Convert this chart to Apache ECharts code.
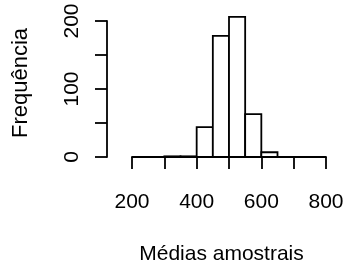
<!DOCTYPE html>
<html>
<head>
<meta charset="utf-8">
<script src="https://cdn.jsdelivr.net/npm/echarts@6/dist/echarts.min.js"></script>
<style>
  html, body { margin: 0; padding: 0; background: #fff; }
  #hist-chart { width: 345px; height: 266px; }
</style>
</head>
<body>
<div id="hist-chart"></div>
<script>
// limites das classes e frequências
var breaks = [300, 350, 400, 450, 500, 550, 600, 650];
var counts = [1, 1, 44, 178, 206, 63, 7];
var xLabels = [200, 400, 600, 800];
var yLabels = [0, 100, 200];

var histData = [];
for (var i = 0; i < counts.length; i++) {
    histData.push([breaks[i], breaks[i + 1], counts[i]]);
}

var font = 'Liberation Sans, Arial, sans-serif';

var option = {
    animation: false,
    grid: { left: 132, right: 19, top: 21, bottom: 109, outerBoundsMode: 'none' },
    xAxis: {
        type: 'value',
        min: 200,
        max: 800,
        interval: 100,
        offset: 6,
        splitLine: { show: false },
        axisLine: { lineStyle: { color: '#000', width: 1.8 } },
        axisTick: { length: 12, lineStyle: { color: '#000', width: 1.8 } },
        axisLabel: {
            margin: 29,
            color: '#000',
            fontSize: 21,
            fontFamily: font,
            formatter: function (v) { return xLabels.indexOf(v) >= 0 ? String(v) : ''; }
        },
        name: 'Médias amostrais',
        nameLocation: 'middle',
        nameGap: 81,
        nameTextStyle: { color: '#000', fontSize: 21, fontFamily: font, padding: [0, 15, 0, 0] }
    },
    yAxis: {
        type: 'value',
        min: 0,
        max: 200,
        interval: 50,
        offset: 25,
        splitLine: { show: false },
        axisLine: { show: true, lineStyle: { color: '#000', width: 1.8 } },
        axisTick: { show: true, length: 12, lineStyle: { color: '#000', width: 1.8 } },
        axisLabel: {
            rotate: 90,
            margin: 24,
            color: '#000',
            fontSize: 21,
            fontFamily: font,
            formatter: function (v) { return yLabels.indexOf(v) >= 0 ? String(v) : ''; }
        },
        name: 'Frequência',
        nameLocation: 'middle',
        nameGap: 75,
        nameTextStyle: { color: '#000', fontSize: 22, fontFamily: font, padding: [0, 0, 0, 12] }
    },
    series: [{
        type: 'custom',
        clip: false,
        data: histData,
        encode: { x: [0, 1], y: 2 },
        renderItem: function (params, api) {
            var p0 = api.coord([api.value(0), api.value(2)]);
            var p1 = api.coord([api.value(1), 0]);
            return {
                type: 'rect',
                shape: { x: p0[0], y: p0[1], width: p1[0] - p0[0], height: p1[1] - p0[1] },
                style: { fill: '#fff', stroke: '#000', lineWidth: 1.8 }
            };
        }
    }]
};

var histChart = echarts.init(document.getElementById('hist-chart'));
histChart.setOption(option);
</script>
</body>
</html>
